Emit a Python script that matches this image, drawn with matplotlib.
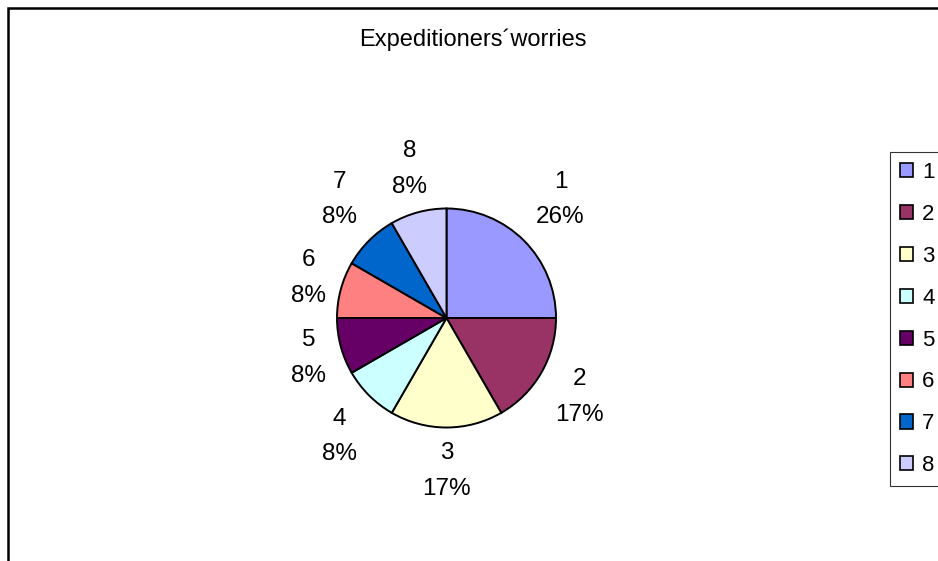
import matplotlib
matplotlib.use("Agg")
import numpy as np
from matplotlib import pyplot as plt
from matplotlib.patches import Rectangle

plt.rcParams['font.family'] = ['Liberation Sans', 'DejaVu Sans']

TITLE = "Expeditioners\u00b4worries"
categories = ["1", "2", "3", "4", "5", "6", "7", "8"]
values = [3, 2, 2, 1, 1, 1, 1, 1]
colors = ["#9999FF", "#993366", "#FFFFCC", "#CCFFFF",
          "#660066", "#FF8080", "#0066CC", "#CCCCFF"]

W, H = 938, 561
R_PX = 109.5           # pie radius in pixels
CX, CY = 446.5, 243    # pie centre in pixels (from bottom)

# percentages like Excel: rounded, difference to 100 goes on the largest slice
vals = np.array(values, dtype=float)
pct = np.round(vals / vals.sum() * 100).astype(int)
pct[np.argmax(vals)] += 100 - pct.sum()

fig = plt.figure(figsize=(W / 100, H / 100), dpi=100)

# outer chart border (right and bottom are outside the picture)
fig.patches.append(Rectangle((7.5 / W, -0.1), 1.2, (H - 7.5) / H + 0.1,
                             transform=fig.transFigure, fill=False,
                             edgecolor="black", linewidth=1.8))

half = 220
ax = fig.add_axes([(CX - half) / W, (CY - half) / H, 2 * half / W, 2 * half / H])

wedges, _ = ax.pie(values, colors=colors, startangle=90, counterclock=False,
                   radius=1, wedgeprops=dict(edgecolor="black", linewidth=1.4))
lim = half / R_PX
ax.set_xlim(-lim, lim)
ax.set_ylim(-lim, lim)
ax.set_aspect("equal")
ax.axis("off")

fig.text(473 / W, 1 - 40 / H, TITLE, ha="center", va="center", fontsize=17)

# data labels: padded box touching an anchor point just outside the pie
fig.canvas.draw()
renderer = fig.canvas.get_renderer()
anchor = 1.08
pad = 6
for w, cat, p in zip(wedges, categories, pct):
    th = np.deg2rad((w.theta1 + w.theta2) / 2)
    t = ax.annotate(f"{cat}\n{p}%", xy=(anchor * np.cos(th), anchor * np.sin(th)),
                    xytext=(0, 0), textcoords="offset pixels",
                    ha="center", va="center", fontsize=17.5, linespacing=1.8,
                    annotation_clip=False)
    bb = t.get_window_extent(renderer)
    c, s = np.cos(th), np.sin(th)
    m = max(abs(c), abs(s))
    t.xyann = ((bb.width / 2 + pad) * c / m, (bb.height / 2 + pad) * s / m)

leg = fig.legend(wedges, categories, loc="upper left",
                 bbox_to_anchor=(890 / W, 1 - 152 / H), fontsize=16,
                 frameon=True, fancybox=False, shadow=False,
                 handlelength=0.6, handleheight=0.6, handletextpad=0.4,
                 labelspacing=0.94, borderpad=0.45, borderaxespad=0)
leg.get_frame().set_edgecolor("black")
leg.get_frame().set_linewidth(0.8)
for h in leg.legend_handles:
    h.set_linewidth(1.2)

fig.savefig("out.png", dpi=100)
